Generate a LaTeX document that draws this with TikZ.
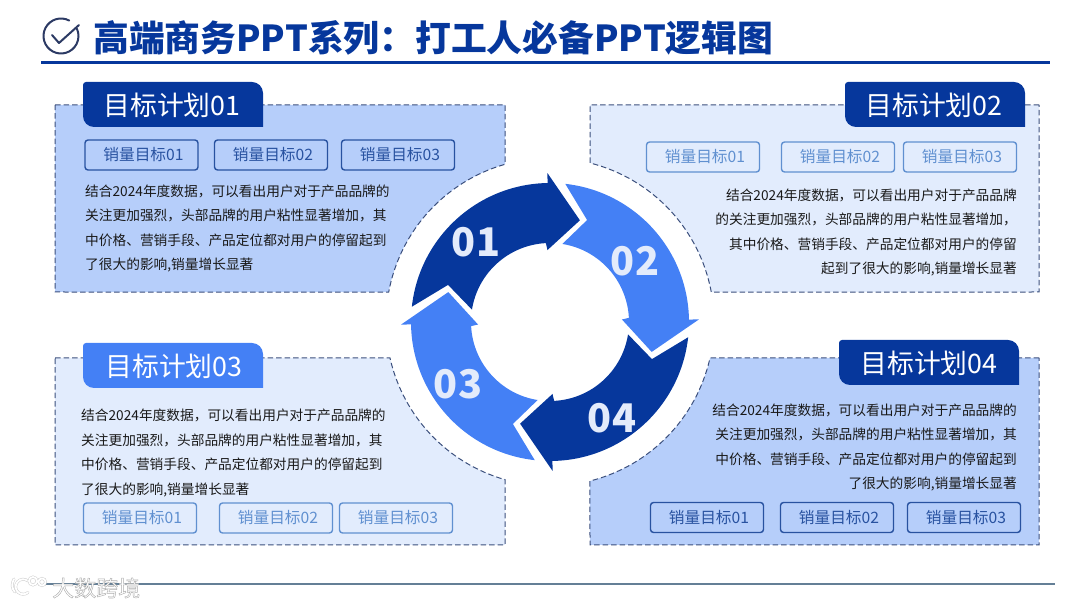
\documentclass[tikz,border=0pt]{standalone}
\usepackage{fontspec}
\setmainfont{Noto Sans CJK SC}
\usepackage{xcolor}
\definecolor{plandark}{RGB}{6, 55, 156}
\definecolor{planlight}{RGB}{68, 128, 245}
\definecolor{panelmid}{RGB}{182, 206, 250}
\definecolor{panelpale}{RGB}{226, 236, 253}
\definecolor{dashblue}{RGB}{60, 80, 125}
\definecolor{btnmid}{RGB}{40, 82, 160}
\definecolor{btnpale}{RGB}{96, 144, 208}
\definecolor{iconink}{RGB}{44, 58, 100}
\definecolor{digitpale}{RGB}{227, 235, 251}
\definecolor{footgrey}{RGB}{100, 127, 150}
\usetikzlibrary{positioning, calc}
\tikzset{
  panelbox/.style={draw=dashblue, dashed, dash pattern=on 5.5pt off 3pt, line width=1pt},
  tabtext/.style={text=white, font=\fontsize{26.8}{30}\selectfont, inner sep=0pt},
  btnbox/.style={draw=#1, text=#1, line width=1.4pt, rounded corners=3pt, minimum width=113pt, minimum height=30pt, inner sep=0pt, font=\fontsize{15.7}{18}\selectfont},
  bodyleft/.style={anchor=west, align=left, inner sep=0pt, text=black!90, font=\fontsize{13.7}{24.5}\selectfont},
  bodyright/.style={anchor=east, align=right, inner sep=0pt, text=black!90, font=\fontsize{13.7}{24.5}\selectfont},
  digit/.style={text=digitpale, font=\fontsize{39.5}{44}\bfseries\selectfont, inner sep=0pt},
  markline/.style={gray!40, line width=0.5pt, double=white, double distance=1.8pt, line cap=round},
}
\begin{document}
\begin{tikzpicture}[x=1pt, y=1pt]
    \useasboundingbox (0, 0) rectangle (1080, 608);
    \coordinate (C) at (550, 286);

    % title
    \draw[iconink, line width=2pt, line cap=round] (61, 572) ++(62:17.5) arc[start angle=62, end angle=385, radius=17.5];
    \draw[iconink, line width=2pt, line cap=round, line join=round] (52, 573) -- (59, 565) -- (79, 583);
    \node[anchor=west, inner sep=0pt, text=plandark, font=\fontsize{35.8}{40}\bfseries\selectfont] (title) at (93, 570) {高端商务PPT系列：打工人必备PPT逻辑图};
    \coordinate (ruleL) at (41, 545);
    \coordinate (ruleR) at (1050, 545);
    \draw[plandark, line width=3pt] (ruleL) -- (ruleR);

    % panels
    \filldraw[panelbox, fill=panelmid] (55, 503) -- (505, 503) -- (505, 443.7) arc[start angle=105.9, end angle=169.5, radius=164] -- (55, 316) -- cycle;
    \filldraw[panelbox, fill=panelpale] (1039, 503) -- (590, 503) -- (590, 445) arc[start angle=75.9, end angle=10.5, radius=164] -- (1039, 316) -- cycle;
    \filldraw[panelbox, fill=panelpale] (55, 250) -- (390, 250) arc[start angle=192.7, end angle=254.1, radius=164] -- (505, 63) -- (55, 63) -- cycle;
    \filldraw[panelbox, fill=panelmid] (1039, 250) -- (710, 250) arc[start angle=-12.7, end angle=-75.9, radius=164] -- (590, 63) -- (1039, 63) -- cycle;

    % tabs
    \foreach \tx/\ty/\col in {83/481/plandark, 845/481/plandark, 83/220/planlight, 839/223/plandark}
        \fill[\col] (\tx+180, \ty) [rounded corners=11pt] -- (\tx, \ty) [rounded corners=3pt] -- (\tx, \ty+45) [rounded corners=11pt] -- (\tx+180, \ty+45) -- (\tx+180, \ty) [sharp corners] -- cycle;
    \node[tabtext] (tabA) at (172, 503) {目标计划01};
    \node[tabtext] (tabB) at (934, 503) {目标计划02};
    \node[tabtext] (tabC) at (174, 242) {目标计划03};
    \node[tabtext] (tabD) at (929, 245) {目标计划04};

    % buttons
    \foreach \bx/\num in {141.5/1, 271/2, 398/3}
        \node[btnbox=btnmid] (btnA\num) at (\bx, 453) {\hspace*{4pt}\raisebox{-1pt}{销量目标0\num}};
    \foreach \bx/\num in {703/1, 838/2, 960/3}
        \node[btnbox=btnpale] (btnB\num) at (\bx, 451) {\hspace*{4pt}\raisebox{-1pt}{销量目标0\num}};
    \foreach \bx/\num in {140/1, 276/2, 396/3}
        \node[btnbox=btnpale] (btnC\num) at (\bx, 90) {\hspace*{4pt}\raisebox{-1pt}{销量目标0\num}};
    \foreach \bx/\num in {707/1, 837/2, 964/3}
        \node[btnbox=btnmid] (btnD\num) at (\bx, 90.5) {\hspace*{4pt}\raisebox{-1pt}{销量目标0\num}};

    % body text
    \node[bodyleft] (bodyA) at (85, 379.5) {结合2024年度数据，可以看出用户对于产品品牌的\\关注更加强烈，头部品牌的用户粘性显著增加，其\\中价格、营销手段、产品定位都对用户的停留起到\\了很大的影响,销量增长显著};
    \node[bodyright] (bodyB) at (1017, 375.5) {结合2024年度数据，可以看出用户对于产品品牌\\的关注更加强烈，头部品牌的用户粘性显著增加，\\其中价格、营销手段、产品定位都对用户的停留\\起到了很大的影响,销量增长显著};
    \node[bodyleft] (bodyC) at (81, 155) {结合2024年度数据，可以看出用户对于产品品牌的\\关注更加强烈，头部品牌的用户粘性显著增加，其\\中价格、营销手段、产品定位都对用户的停留起到\\了很大的影响,销量增长显著};
    \node[bodyright] (bodyD) at (1017, 160.5) {结合2024年度数据，可以看出用户对于产品品牌的\\关注更加强烈，头部品牌的用户粘性显著增加，其\\中价格、营销手段、产品定位都对用户的停留起到\\了很大的影响,销量增长显著};

    % ring of arrows
    \foreach \turn/\col in {0/plandark, -90/planlight, -180/plandark, -270/planlight}
        \fill[\col, shift={(C)}, rotate=\turn] (173.7:139) arc[start angle=173.7, end angle=91, radius=139] -- (91:149) -- (73.6:106) -- (92:72) -- (93:79) arc[start angle=93, end angle=171, radius=79] -- (160:108.5) -- cycle;
    \node[digit] (numA) at (476, 366) {01};
    \node[digit] (numB) at (635, 347) {02};
    \node[digit] (numC) at (458, 224) {03};
    \node[digit] (numD) at (612, 190) {04};

    % foot line and mark
    \coordinate (footL) at (45, 24);
    \coordinate (footR) at (1055, 24);
    \draw[footgrey, line width=1.5pt] (footL) -- (footR);
    \draw[markline] (14, 29) .. controls (11, 24) and (12, 19) .. (15, 16);
    \draw[markline] (28, 27) arc[start angle=50, end angle=310, radius=7.5];
    \draw[markline] (33, 27) circle (4pt) (42, 26) circle (3.6pt);
    \node[anchor=west, inner sep=0pt, text=white, font=\fontsize{22}{24}\selectfont] (mark) at (52, 20) {\special{pdf:code q 2 Tr 0.45 w 0.68 G}大数跨境\special{pdf:code Q}};
\end{tikzpicture}
\end{document}
